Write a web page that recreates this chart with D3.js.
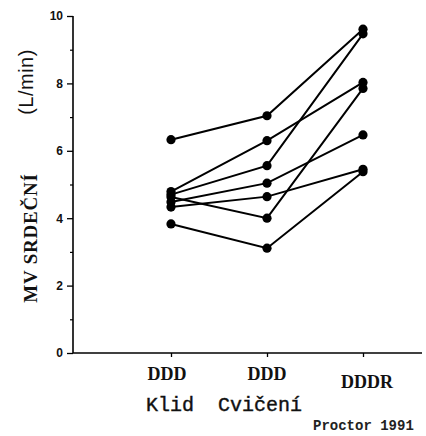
<!DOCTYPE html>
<html><head><meta charset="utf-8">
<script src="https://cdn.jsdelivr.net/npm/d3@7/dist/d3.min.js"></script>
<style>html,body{margin:0;padding:0;background:#fff;}svg{display:block;}</style>
</head><body><svg id="c" width="426" height="436"></svg>
<script>
// Data (cardiac output, L/min) per subject across three conditions
const conditions = ["DDD", "DDD", "DDDR"];
const yTicks = [0, 2, 4, 6, 8, 10];
const yMinorTicks = [1, 3, 5, 7, 9];
const restDDD = [6.33, 4.79, 4.70, 4.48, 4.33, 4.63, 3.83];
const exerciseDDD = [7.04, 6.30, 5.56, 5.04, 4.64, 4.00, 3.11];
const exerciseDDDR = [9.61, 8.03, 9.47, 6.47, 5.45, 7.85, 5.38];

const svg = d3.select("#c");
const y = d3.scaleLinear().domain([0, 10]).range([353, 16]);
const x = d3.scalePoint().domain([0, 1, 2]).range([171, 363]);
const axisX = 73, axisRight = 422;

// y axis
const gy = svg.append("g").attr("transform", `translate(${axisX},0)`);
gy.call(d3.axisLeft(y).tickValues(yTicks).tickSize(6).tickPadding(4).tickSizeOuter(0));
gy.select(".domain").remove();
gy.selectAll(".tick line").attr("stroke", "#000").attr("stroke-width", 1.3);
gy.selectAll(".tick text").attr("font-family", "Arial, 'Liberation Sans', sans-serif")
  .attr("font-size", 12).attr("font-weight", "bold").attr("fill", "#111");
const gym = svg.append("g").attr("transform", `translate(${axisX},0)`);
gym.call(d3.axisLeft(y).tickValues(yMinorTicks).tickSize(3).tickFormat(""));
gym.select(".domain").remove();
gym.selectAll(".tick line").attr("stroke", "#000").attr("stroke-width", 1.2);
svg.append("line").attr("x1", axisX).attr("x2", axisX).attr("y1", y(10)).attr("y2", y(0))
  .attr("stroke", "#000").attr("stroke-width", 1.6);

// x axis
svg.append("line").attr("x1", axisX).attr("x2", axisRight).attr("y1", y(0)).attr("y2", y(0))
  .attr("stroke", "#000").attr("stroke-width", 1.6);
const gx = svg.append("g").attr("transform", `translate(0,${y(0)})`);
gx.call(d3.axisBottom(x).tickSize(4).tickSizeOuter(0).tickFormat(""));
gx.select(".domain").remove();
gx.selectAll(".tick line").attr("stroke", "#000").attr("stroke-width", 1.3);

// category labels
const catY = [380, 380, 388];
const catDx = [-4, 0, 4];
svg.selectAll("text.cat").data(conditions).join("text").attr("class", "cat")
  .attr("x", (d, i) => x(i) + catDx[i]).attr("y", (d, i) => catY[i])
  .attr("text-anchor", "middle")
  .attr("font-family", "'Liberation Serif', 'Times New Roman', serif")
  .attr("font-weight", "bold").attr("font-size", 18).attr("fill", "#111").text(d => d);

svg.append("text").attr("x", 146).attr("y", 411)
  .attr("font-family", "'Liberation Mono', 'Courier New', monospace")
  .attr("font-size", 20).attr("fill", "#111").attr("stroke", "#111").attr("stroke-width", 0.4)
  .style("white-space", "pre").text("Klid  Cvičení");

svg.append("text").attr("x", 313).attr("y", 430)
  .attr("font-family", "'Liberation Mono', 'Courier New', monospace")
  .attr("font-weight", "bold").attr("font-size", 14).attr("fill", "#222").text("Proctor 1991");

// y label
svg.append("text").attr("transform", "translate(37,238) rotate(-90)").attr("text-anchor", "middle")
  .attr("font-family", "'Liberation Serif', 'Times New Roman', serif")
  .attr("font-weight", "bold").attr("font-size", 19).attr("letter-spacing", 0.8)
  .attr("fill", "#111").text("MV SRDEČNÍ");
svg.append("text").attr("transform", "translate(33,82) rotate(-90)").attr("text-anchor", "middle")
  .attr("font-family", "Arial, 'Liberation Sans', sans-serif")
  .attr("font-size", 20).attr("letter-spacing", 0.5).attr("fill", "#111").text("(L/min)");

// subject lines and points
const subjects = restDDD.map((v, i) => [v, exerciseDDD[i], exerciseDDDR[i]]);
const line = d3.line().x((d, i) => x(i)).y(d => y(d));
svg.selectAll("path.subj").data(subjects).join("path").attr("class", "subj")
  .attr("d", line).attr("fill", "none").attr("stroke", "#000").attr("stroke-width", 2);
subjects.forEach(s => {
  svg.selectAll(null).data(s).join("circle")
    .attr("cx", (d, i) => x(i)).attr("cy", d => y(d)).attr("r", 4.6).attr("fill", "#000");
});
</script></body></html>
